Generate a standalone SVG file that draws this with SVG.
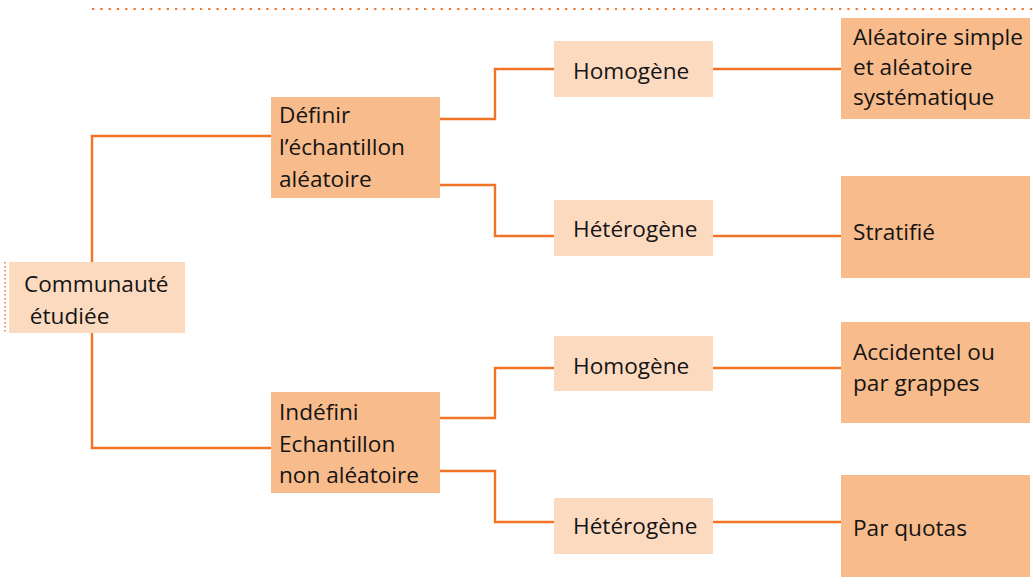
<svg xmlns="http://www.w3.org/2000/svg" width="1033" height="584" viewBox="0 0 1033 584">
<style>
.light{fill:#FCDAC0}
.dark{fill:#F8BB8B}
.t{font-family:"Open Sans","Noto Sans",sans-serif;font-size:22.6px;fill:#141414}
.c{fill:none;stroke:#F07424;stroke-width:2.4}
.dot{fill:none;stroke:#F07424;stroke-width:2.2;stroke-dasharray:2.2 6.1}
</style>
<rect width="1033" height="584" fill="#ffffff"/>
<line class="dot" x1="92" y1="9" x2="1033" y2="9"/>
<line x1="5" y1="262" x2="5" y2="333" stroke="#F07424" stroke-width="1.5" stroke-dasharray="1.5 2.5"/>
<g id="connectors">
<polyline class="c" points="92,262 92,136 271,136"/>
<polyline class="c" points="92,333 92,448 271,448"/>
<polyline class="c" points="440,119 495,119 495,69 554,69"/>
<polyline class="c" points="440,185 495,185 495,236 554,236"/>
<polyline class="c" points="440,418 495,418 495,368 554,368"/>
<polyline class="c" points="440,471 495,471 495,522 554,522"/>
<line class="c" x1="713" y1="69" x2="841" y2="69"/>
<line class="c" x1="713" y1="236" x2="841" y2="236"/>
<line class="c" x1="713" y1="368" x2="841" y2="368"/>
<line class="c" x1="713" y1="522" x2="841" y2="522"/>
</g>
<g id="communaute">
<rect class="light" x="9" y="262" width="176" height="71"/>
<text class="t" x="24" y="292">Communauté</text>
<text class="t" x="24" y="324" xml:space="preserve"> étudiée</text>
</g>
<g id="definir">
<rect class="dark" x="271" y="97" width="169" height="101"/>
<text class="t" x="279" y="123">Définir</text>
<text class="t" x="279" y="155">l’échantillon</text>
<text class="t" x="279" y="187">aléatoire</text>
</g>
<g id="indefini">
<rect class="dark" x="271" y="392" width="169" height="101"/>
<text class="t" x="279" y="420">Indéfini</text>
<text class="t" x="279" y="452">Echantillon</text>
<text class="t" x="279" y="483">non aléatoire</text>
</g>
<g id="homogene1">
<rect class="light" x="554" y="41" width="159" height="56"/>
<text class="t" x="573" y="79">Homogène</text>
</g>
<g id="heterogene1">
<rect class="light" x="554" y="200" width="159" height="56"/>
<text class="t" x="573" y="237">Hétérogène</text>
</g>
<g id="homogene2">
<rect class="light" x="554" y="336" width="159" height="55"/>
<text class="t" x="573" y="374">Homogène</text>
</g>
<g id="heterogene2">
<rect class="light" x="554" y="498" width="159" height="56"/>
<text class="t" x="573" y="534">Hétérogène</text>
</g>
<g id="aleatoire">
<rect class="dark" x="841" y="18" width="189" height="101"/>
<text class="t" x="853" y="45">Aléatoire simple</text>
<text class="t" x="853" y="75">et aléatoire</text>
<text class="t" x="853" y="105">systématique</text>
</g>
<g id="stratifie">
<rect class="dark" x="841" y="176" width="189" height="102"/>
<text class="t" x="853" y="240">Stratifié</text>
</g>
<g id="accidentel">
<rect class="dark" x="841" y="322" width="189" height="101"/>
<text class="t" x="853" y="360">Accidentel ou</text>
<text class="t" x="853" y="391">par grappes</text>
</g>
<g id="quotas">
<rect class="dark" x="841" y="475" width="189" height="102"/>
<text class="t" x="853" y="536">Par quotas</text>
</g>
</svg>
